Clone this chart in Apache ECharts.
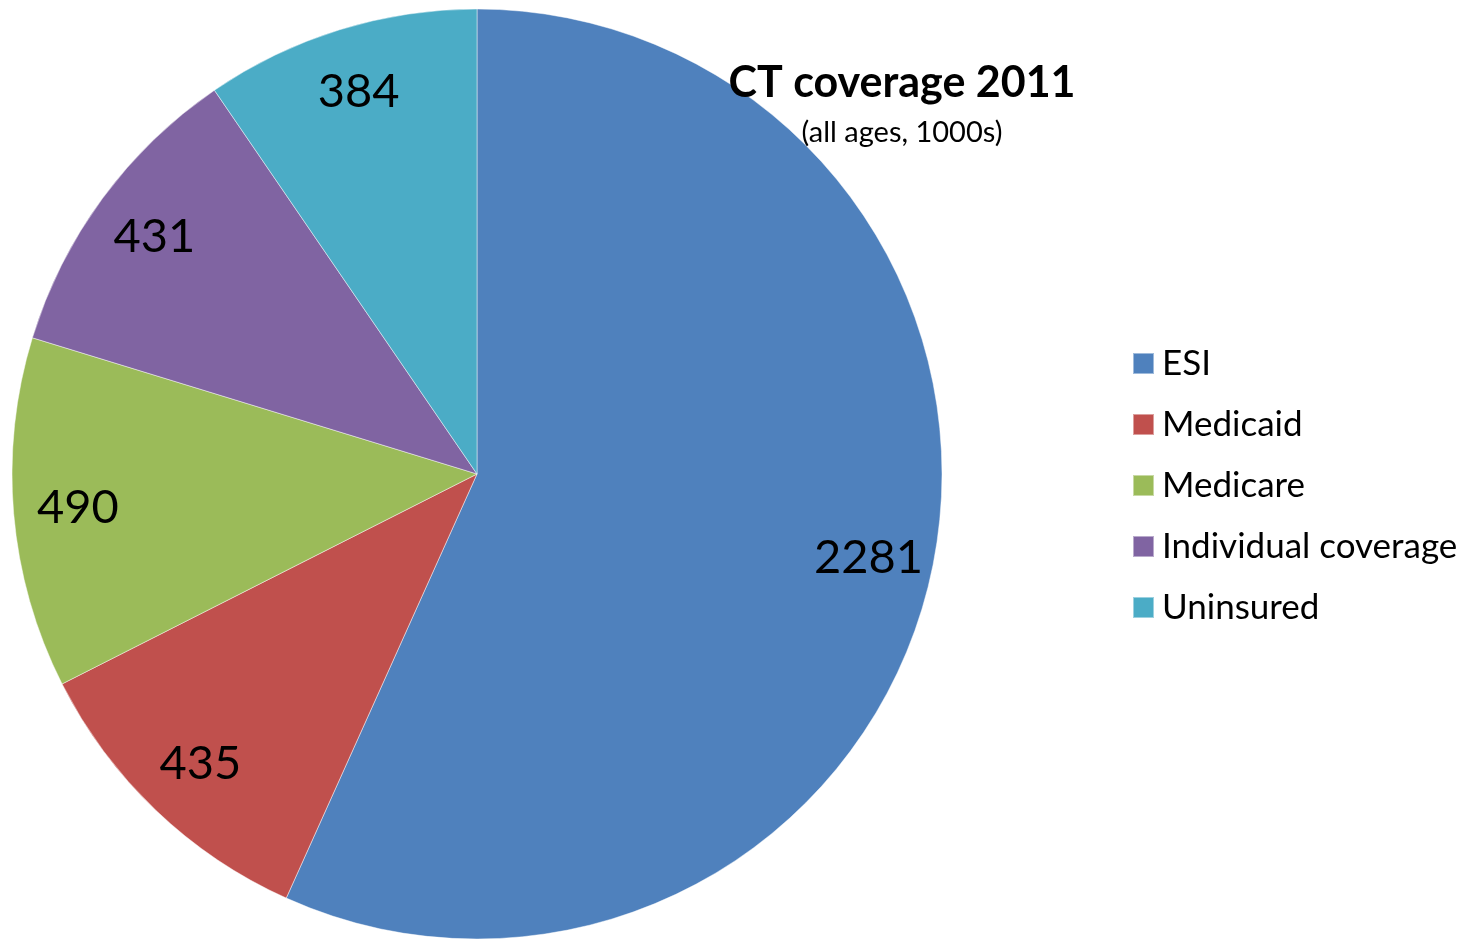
<!DOCTYPE html>
<html>
<head>
<meta charset="utf-8">
<script src="https://cdn.jsdelivr.net/npm/echarts@6/dist/echarts.min.js"></script>
<style>
  html, body { margin: 0; padding: 0; background: #fff; }
  #chart { width: 1472px; height: 939px; }
</style>
</head>
<body>
<div id="chart"></div>
<script>
// Connecticut health coverage, 2011 (thousands of people, all ages)
const categories = ['ESI', 'Medicaid', 'Medicare', 'Individual coverage', 'Uninsured'];
const values = [2281, 435, 490, 431, 384];
const colors = ['#4F81BD', '#C0504D', '#9BBB59', '#8064A2', '#4BACC6'];

const FONT = 'Lato, "Open Sans", sans-serif';
const center = [477, 474];
const R = 465;

const sliceData = categories.map((name, i) => ({
  name,
  value: values[i],
  itemStyle: { color: colors[i] }
}));

const chart = echarts.init(document.getElementById('chart'));
chart.setOption({
  backgroundColor: '#ffffff',
  animation: false,
  title: {
    text: 'CT coverage 2011',
    subtext: '(all ages, 1000s)',
    left: 897,
    top: 57,
    textAlign: 'center',
    itemGap: 13,
    textStyle: { fontFamily: FONT, fontWeight: 'bold', fontSize: 43, color: '#000' },
    subtextStyle: { fontFamily: FONT, fontSize: 29, color: '#000' }
  },
  legend: {
    orient: 'vertical',
    left: 1127,
    top: 341,
    icon: 'rect',
    itemWidth: 21,
    itemHeight: 21,
    itemGap: 26,
    data: categories,
    textStyle: { fontFamily: FONT, fontSize: 35, color: '#000', lineHeight: 35, padding: [0, 0, 0, 3] }
  },
  series: [
    {
      type: 'pie',
      center,
      radius: [0, R],
      startAngle: 90,
      clockwise: true,
      silent: true,
      label: { show: false },
      labelLine: { show: false },
      itemStyle: { borderColor: 'rgba(255,255,255,0.45)', borderWidth: 1 },
      data: sliceData
    },
    {
      // transparent ring that carries the value labels near the rim
      type: 'pie',
      center,
      radius: [R - 135, R],
      startAngle: 90,
      clockwise: true,
      silent: true,
      legendHoverLink: false,
      itemStyle: { color: 'rgba(0,0,0,0)' },
      label: {
        show: true,
        position: 'inside',
        formatter: '{c}',
        fontFamily: FONT,
        fontSize: 47,
        color: '#000'
      },
      labelLine: { show: false },
      data: categories.map((name, i) => ({ name, value: values[i], itemStyle: { color: 'rgba(0,0,0,0)' } }))
    }
  ]
});
</script>
</body>
</html>
